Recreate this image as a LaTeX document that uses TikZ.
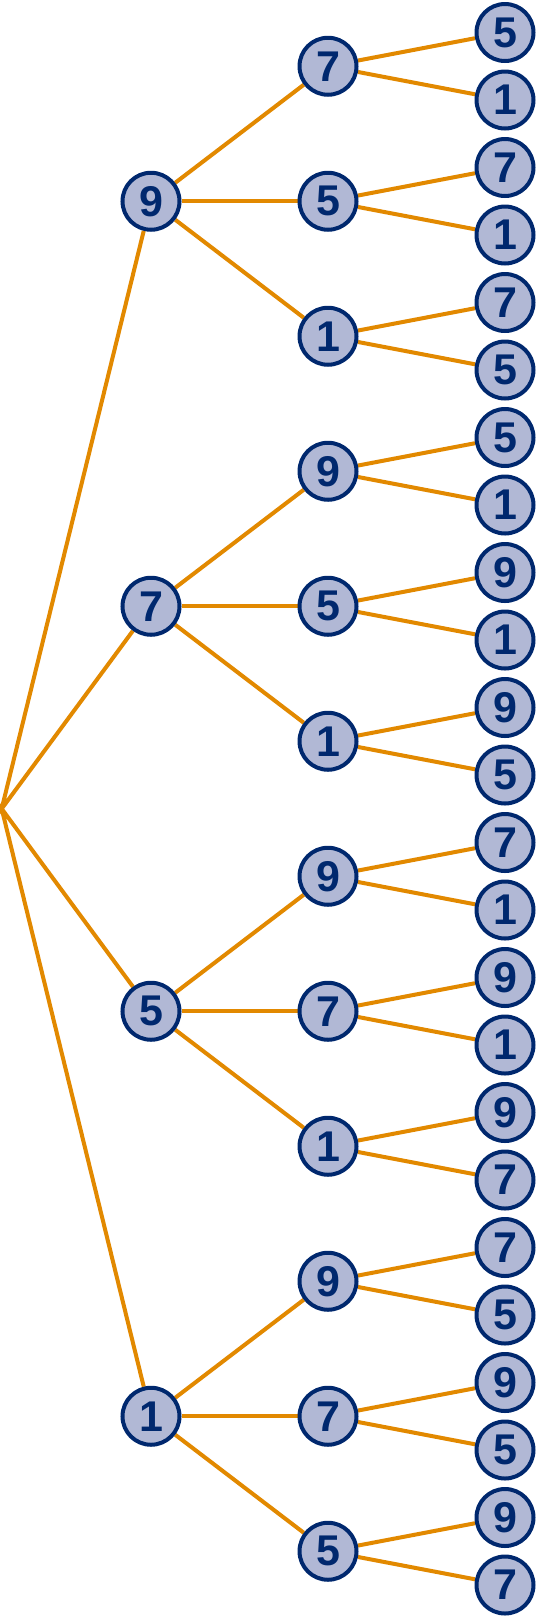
\documentclass[tikz,border=0pt]{standalone}
\usepackage{fontspec}
\setmainfont{Liberation Sans}
\usetikzlibrary{backgrounds}
\definecolor{branch}{RGB}{226,137,0}
\definecolor{navy}{RGB}{0,40,110}
\definecolor{ball}{RGB}{177,184,213}

\begin{document}
\begin{tikzpicture}[x=1pt,y=-1pt,
    num/.style={circle, draw=navy, fill=ball, line width=4pt, minimum size=57pt, inner sep=0pt, text=navy, font=\fontsize{43}{43}\selectfont\bfseries},
    br/.style={draw=branch, line width=4pt}]
            \useasboundingbox (0,0) rectangle (537,1618);
            \coordinate (root) at (1.7,808.75);
            % first choice
            \node[num] (v9) at (151,201.25) {9};
            \node[num] (v7) at (151,606.25) {7};
            \node[num] (v5) at (151,1011.25) {5};
            \node[num] (v1) at (151,1416.25) {1};
            % second choice
            \node[num] (v97) at (328,66.25) {7};
            \node[num] (v95) at (328,201.25) {5};
            \node[num] (v91) at (328,336.25) {1};
            \node[num] (v79) at (328,471.25) {9};
            \node[num] (v75) at (328,606.25) {5};
            \node[num] (v71) at (328,741.25) {1};
            \node[num] (v59) at (328,876.25) {9};
            \node[num] (v57) at (328,1011.25) {7};
            \node[num] (v51) at (328,1146.25) {1};
            \node[num] (v19) at (328,1281.25) {9};
            \node[num] (v17) at (328,1416.25) {7};
            \node[num] (v15) at (328,1551.25) {5};
            % third choice
            \node[num] (v975) at (505,32.5) {5};
            \node[num] (v971) at (505,100) {1};
            \node[num] (v957) at (505,167.5) {7};
            \node[num] (v951) at (505,235) {1};
            \node[num] (v917) at (505,302.5) {7};
            \node[num] (v915) at (505,370) {5};
            \node[num] (v795) at (505,437.5) {5};
            \node[num] (v791) at (505,505) {1};
            \node[num] (v759) at (505,572.5) {9};
            \node[num] (v751) at (505,640) {1};
            \node[num] (v719) at (505,707.5) {9};
            \node[num] (v715) at (505,775) {5};
            \node[num] (v597) at (505,842.5) {7};
            \node[num] (v591) at (505,910) {1};
            \node[num] (v579) at (505,977.5) {9};
            \node[num] (v571) at (505,1045) {1};
            \node[num] (v519) at (505,1112.5) {9};
            \node[num] (v517) at (505,1180) {7};
            \node[num] (v197) at (505,1247.5) {7};
            \node[num] (v195) at (505,1315) {5};
            \node[num] (v179) at (505,1382.5) {9};
            \node[num] (v175) at (505,1450) {5};
            \node[num] (v159) at (505,1517.5) {9};
            \node[num] (v157) at (505,1585) {7};
            % branches
            \begin{scope}[on background layer]
            \draw[br] (v9) -- (root) -- (v7);
            \draw[br] (v5) -- (root) -- (v1);
            \draw[br] (v9) -- (v97); \draw[br] (v9) -- (v95); \draw[br] (v9) -- (v91);
            \draw[br] (v7) -- (v79); \draw[br] (v7) -- (v75); \draw[br] (v7) -- (v71);
            \draw[br] (v5) -- (v59); \draw[br] (v5) -- (v57); \draw[br] (v5) -- (v51);
            \draw[br] (v1) -- (v19); \draw[br] (v1) -- (v17); \draw[br] (v1) -- (v15);
            \draw[br] (v97) -- (v975); \draw[br] (v97) -- (v971);
            \draw[br] (v95) -- (v957); \draw[br] (v95) -- (v951);
            \draw[br] (v91) -- (v917); \draw[br] (v91) -- (v915);
            \draw[br] (v79) -- (v795); \draw[br] (v79) -- (v791);
            \draw[br] (v75) -- (v759); \draw[br] (v75) -- (v751);
            \draw[br] (v71) -- (v719); \draw[br] (v71) -- (v715);
            \draw[br] (v59) -- (v597); \draw[br] (v59) -- (v591);
            \draw[br] (v57) -- (v579); \draw[br] (v57) -- (v571);
            \draw[br] (v51) -- (v519); \draw[br] (v51) -- (v517);
            \draw[br] (v19) -- (v197); \draw[br] (v19) -- (v195);
            \draw[br] (v17) -- (v179); \draw[br] (v17) -- (v175);
            \draw[br] (v15) -- (v159); \draw[br] (v15) -- (v157);
            \end{scope}
        \end{tikzpicture}
\end{document}
